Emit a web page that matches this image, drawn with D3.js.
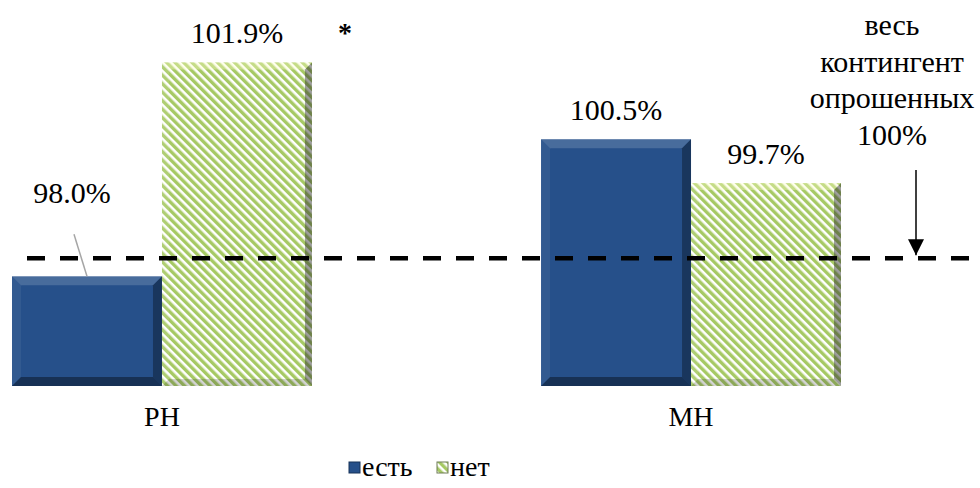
<!DOCTYPE html>
<html>
<head>
<meta charset="utf-8">
<script src="https://cdn.jsdelivr.net/npm/d3@7"></script>
<style>
  html, body { margin: 0; padding: 0; background: #fff; }
  svg { display: block; }
</style>
</head>
<body>
<svg id="chart" width="980" height="488"></svg>
<script>
// Categories and series
const categories = ["РН", "МН"];
const seriesNames = ["есть", "нет"];
const valuesYes = [98.0, 100.5];
const valuesNo = [101.9, 99.7];
// Value-axis range (axis itself hidden)
const axisDomain = [96, 102];
// Guide line for the whole surveyed contingent
const contingentLevel = [98.33];
const contingentNote = ["весь", "контингент", "опрошенных", "100%"];

const svg = d3.select("#chart");
const W = 980, H = 488;
const FONT = 30;
const SERIF = "'Liberation Serif', 'Times New Roman', serif";

const x0 = d3.scaleBand().domain(categories).range([12, 841]).paddingInner(0.433).paddingOuter(0);
const x1 = d3.scaleBand().domain(seriesNames).range([0, x0.bandwidth()]);
const y = d3.scaleLinear().domain(axisDomain).range([386, 57]);

const defs = svg.append("defs");
// Diagonal stripe texture
const pat = defs.append("pattern")
  .attr("id", "stripes").attr("patternUnits", "userSpaceOnUse")
  .attr("width", 6).attr("height", 6)
  .attr("patternTransform", "rotate(-45)");
pat.append("rect").attr("width", 6).attr("height", 6).attr("fill", "#ffffff");
pat.append("rect").attr("width", 3.4).attr("height", 6).attr("fill", "#a6c964");

const colors = { "есть": "#26508a", "нет": "url(#stripes)" };

// Flatten data
const rows = [];
categories.forEach((c, i) => {
  rows.push({ cat: c, series: "есть", value: valuesYes[i] });
  rows.push({ cat: c, series: "нет", value: valuesNo[i] });
});

// Bevel overlays
const bevel = {
  "есть": { top: "rgba(255,255,255,0.16)", left: "rgba(255,255,255,0.06)", right: "rgba(0,0,0,0.32)", bottom: "rgba(0,0,0,0.38)" },
  "нет": { top: "rgba(255,255,200,0.35)", left: "rgba(255,255,255,0.10)", right: "rgba(40,40,40,0.45)", bottom: "rgba(40,40,40,0.2)" }
};

const bars = svg.append("g").selectAll("g.bar").data(rows).join("g").attr("class", "bar");
bars.each(function (d) {
  const g = d3.select(this);
  const bx0 = x0(d.cat) + x1(d.series);
  const bx1 = bx0 + x1.bandwidth();
  const by0 = y(d.value);
  const by1 = y(axisDomain[0]);
  const b = d.series === "есть" ? 9 : 7;
  g.append("rect").attr("x", bx0).attr("y", by0).attr("width", bx1 - bx0).attr("height", by1 - by0)
    .attr("fill", colors[d.series]);
  const bv = bevel[d.series];
  const poly = (pts, fill) => g.append("polygon").attr("points", pts.map(p => p.join(",")).join(" ")).attr("fill", fill);
  poly([[bx0, by0], [bx1, by0], [bx1 - b, by0 + b], [bx0 + b, by0 + b]], bv.top);
  poly([[bx0, by0], [bx0 + b, by0 + b], [bx0 + b, by1 - b], [bx0, by1]], bv.left);
  poly([[bx1, by0], [bx1, by1], [bx1 - b, by1 - b], [bx1 - b, by0 + b]], bv.right);
  poly([[bx0, by1], [bx1, by1], [bx1 - b, by1 - b], [bx0 + b, by1 - b]], bv.bottom);
});

// Value labels
const labelOffset = { "РН|есть": [-15, -54] };
svg.append("g").selectAll("text.val").data(rows).join("text")
  .attr("class", "val")
  .style("font-family", SERIF)
  .attr("text-anchor", "middle")
  .attr("font-size", FONT)
  .attr("x", d => x0(d.cat) + x1(d.series) + x1.bandwidth() / 2 + (labelOffset[d.cat + "|" + d.series] || [0, 0])[0])
  .attr("y", d => y(d.value) - 19 + (labelOffset[d.cat + "|" + d.series] || [0, 0])[1])
  .text(d => d.value.toFixed(1) + "%");

// Leader line for the shifted label
{
  const d = rows[0];
  const cx = x0(d.cat) + x1(d.series) + x1.bandwidth() / 2;
  svg.append("line").attr("x1", cx - 13).attr("y1", y(d.value) - 42).attr("x2", cx).attr("y2", y(d.value))
    .attr("stroke", "#a6a6a6").attr("stroke-width", 1.5);
}

// Significance mark
svg.append("text").attr("x", 345).attr("y", 42).attr("text-anchor", "middle")
  .style("font-family", SERIF).attr("font-size", 28).attr("font-weight", "bold").text("*");

// Contingent guide line
svg.append("g").selectAll("line.guide").data(contingentLevel).join("line")
  .attr("class", "guide")
  .attr("x1", 27).attr("x2", W)
  .attr("y1", d => y(d)).attr("y2", d => y(d))
  .attr("stroke", "#000").attr("stroke-width", 4.5)
  .attr("stroke-dasharray", "18 15");

// Arrow with note
const arrowX = 916;
defs.append("marker").attr("id", "arrowhead").attr("viewBox", "0 0 10 10")
  .attr("refX", 10).attr("refY", 5).attr("markerWidth", 16).attr("markerHeight", 16)
  .attr("markerUnits", "userSpaceOnUse").attr("orient", "auto")
  .append("path").attr("d", "M0,0 L10,5 L0,10 Z").attr("fill", "#000");
svg.append("line").attr("x1", arrowX).attr("y1", 170).attr("x2", arrowX).attr("y2", y(contingentLevel[0]) - 3)
  .attr("stroke", "#000").attr("stroke-width", 1.5).attr("marker-end", "url(#arrowhead)");
svg.append("g").selectAll("text.note").data(contingentNote).join("text")
  .attr("class", "note").attr("text-anchor", "middle").attr("font-size", FONT)
  .style("font-family", SERIF)
  .attr("x", 892).attr("y", (d, i) => 35 + i * 36.5)
  .text(d => d);

// Category labels
svg.append("g").selectAll("text.cat").data(categories).join("text")
  .attr("class", "cat").attr("text-anchor", "middle").attr("font-size", 28)
  .style("font-family", SERIF)
  .attr("x", d => x0(d) + x0.bandwidth() / 2).attr("y", 426)
  .text(d => d);

// Legend
const legend = svg.append("g").attr("transform", "translate(349,462)");
const legendItems = legend.selectAll("g").data(seriesNames).join("g")
  .attr("transform", (d, i) => `translate(${i * 88},0)`);
legendItems.append("rect").attr("width", 11).attr("height", 11).attr("y", 0)
  .attr("fill", d => colors[d]);
legendItems.append("rect").attr("width", 11).attr("height", 11)
  .attr("fill", "none").attr("stroke", d => d === "есть" ? "#173259" : "#6f7d55").attr("stroke-width", 1);
legendItems.append("text").attr("x", 13).attr("y", 14).attr("font-size", 28)
  .style("font-family", SERIF)
  .text(d => d);
</script>
</body>
</html>
